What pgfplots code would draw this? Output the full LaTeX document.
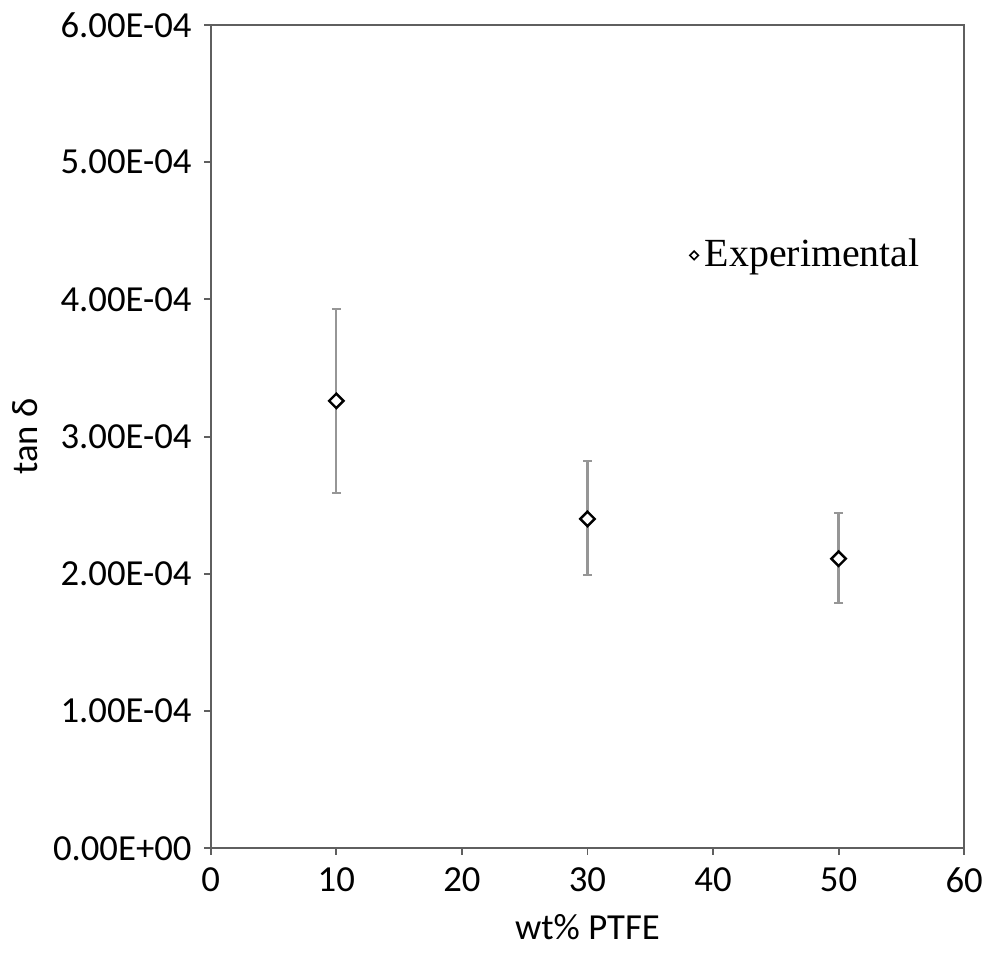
\documentclass[border=0pt]{standalone}
\usepackage{fontspec}
\setmainfont{Carlito}
\newfontfamily\serif{Liberation Serif}
\usepackage{pgfplots}
\pgfplotsset{compat=1.18}

\definecolor{axisgray}{RGB}{95,95,95}
\definecolor{errgray}{RGB}{150,150,150}

\begin{document}
\fontsize{11.5}{13.5}\selectfont
\begin{tikzpicture}
\begin{axis}[
    scale only axis,
    width=236pt,
    height=258pt,
    xmin=0, xmax=60,
    ymin=0, ymax=6e-4,
    xtick={0,10,...,60},
    ytick={0,1e-4,2e-4,3e-4,4e-4,5e-4,6e-4},
    yticklabels={0.00E+00,1.00E-04,2.00E-04,3.00E-04,4.00E-04,5.00E-04,6.00E-04},
    scaled y ticks=false,
    /pgf/number format/assume math mode=true,
    axis line style={axisgray, line width=0.6pt},
    tick style={axisgray, line width=0.6pt},
    tick align=outside,
    major tick length=2pt,
    xtick pos=bottom, ytick pos=left,
    xlabel={wt\% PTFE},
    ylabel={tan δ},
    xlabel style={yshift=1pt},
    ylabel style={yshift=-3pt},
    legend style={draw=none, fill=none, at={(0.635,0.72)}, anchor=west,
        font=\serif\fontsize{12.5}{14}\selectfont, inner sep=0pt},
    legend cell align=left,
    legend image code/.code={
        \draw[black, line width=0.5pt, fill=white] plot[mark=square*, mark size=0.95pt, mark options={rotate=45}] coordinates {(0.1cm,0cm)};
    },
]
\addplot[
    only marks,
    mark=square*,
    mark size=1.6pt,
    mark options={fill=white, draw=black, line width=0.75pt, rotate=45},
    error bars/.cd,
    y dir=both, y explicit,
    error bar style={errgray, line width=0.7pt},
    error mark options={errgray, rotate=90, mark size=1.4pt, line width=0.6pt},
] table[x=x, y=y, y error plus=ep, y error minus=em] {
x   y        ep       em
10  3.26e-4  0.67e-4  0.67e-4
30  2.40e-4  0.42e-4  0.41e-4
50  2.11e-4  0.33e-4  0.32e-4
};
\addlegendentry{Experimental}
\end{axis}
\end{tikzpicture}
\end{document}
